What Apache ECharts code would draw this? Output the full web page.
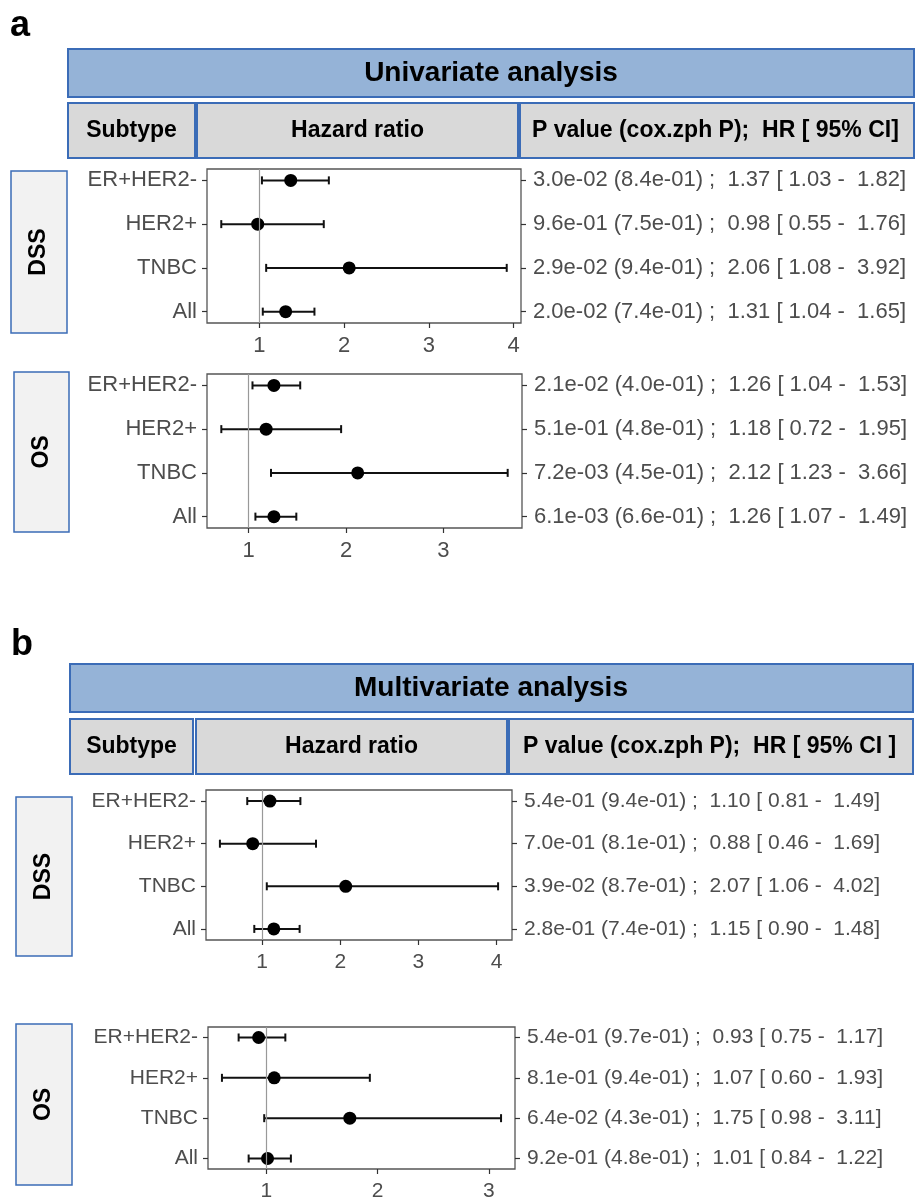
<!DOCTYPE html>
<html><head><meta charset="utf-8">
<script src="https://cdn.jsdelivr.net/npm/echarts@6/dist/echarts.min.js"></script>
<style>html,body{margin:0;padding:0;background:#fff}#chart{width:915px;height:1202px}</style>
</head><body><div id="chart"></div>
<script>
// ---------- data ----------
const rowLabels = ['ER+HER2-', 'HER2+', 'TNBC', 'All'];
const rowPos = [1, 2, 3, 4];
const panelLetters = ['a', 'b'];
const panelTitles = ['Univariate analysis', 'Multivariate analysis'];
const headerLabelsA = ['Subtype', 'Hazard ratio', 'P value (cox.zph P);  HR [ 95% CI]'];
const headerLabelsB = ['Subtype', 'Hazard ratio', 'P value (cox.zph P);  HR [ 95% CI ]'];
const groupLabels = ['DSS', 'OS'];

// Univariate DSS
const uniDssHR    = [1.37, 0.98, 2.06, 1.31];
const uniDssLower = [1.03, 0.55, 1.08, 1.04];
const uniDssUpper = [1.82, 1.76, 3.92, 1.65];
const uniDssP     = ['3.0e-02 (8.4e-01)', '9.6e-01 (7.5e-01)', '2.9e-02 (9.4e-01)', '2.0e-02 (7.4e-01)'];
const uniDssTicks = [1, 2, 3, 4];
// Univariate OS
const uniOsHR    = [1.26, 1.18, 2.12, 1.26];
const uniOsLower = [1.04, 0.72, 1.23, 1.07];
const uniOsUpper = [1.53, 1.95, 3.66, 1.49];
const uniOsP     = ['2.1e-02 (4.0e-01)', '5.1e-01 (4.8e-01)', '7.2e-03 (4.5e-01)', '6.1e-03 (6.6e-01)'];
const uniOsTicks = [1, 2, 3];
// Multivariate DSS
const multiDssHR    = [1.10, 0.88, 2.07, 1.15];
const multiDssLower = [0.81, 0.46, 1.06, 0.90];
const multiDssUpper = [1.49, 1.69, 4.02, 1.48];
const multiDssP     = ['5.4e-01 (9.4e-01)', '7.0e-01 (8.1e-01)', '3.9e-02 (8.7e-01)', '2.8e-01 (7.4e-01)'];
const multiDssTicks = [1, 2, 3, 4];
// Multivariate OS
const multiOsHR    = [0.93, 1.07, 1.75, 1.01];
const multiOsLower = [0.75, 0.60, 0.98, 0.84];
const multiOsUpper = [1.17, 1.93, 3.11, 1.22];
const multiOsP     = ['5.4e-01 (9.7e-01)', '8.1e-01 (9.4e-01)', '6.4e-02 (4.3e-01)', '9.2e-01 (4.8e-01)'];
const multiOsTicks = [1, 2, 3];

// ---------- layout ----------
const FONT = "'Liberation Sans', Arial, sans-serif";
const BLUE = '#3B6CB7';
const panels = [
  { hr: uniDssHR, lo: uniDssLower, hi: uniDssUpper, p: uniDssP, ticks: uniDssTicks, grid: { left: 207, top: 169, width: 314, height: 154 }, fs: 22 },
  { hr: uniOsHR, lo: uniOsLower, hi: uniOsUpper, p: uniOsP, ticks: uniOsTicks, grid: { left: 207, top: 374, width: 315, height: 154 }, fs: 22 },
  { hr: multiDssHR, lo: multiDssLower, hi: multiDssUpper, p: multiDssP, ticks: multiDssTicks, grid: { left: 206, top: 790, width: 306, height: 150 }, fs: 21 },
  { hr: multiOsHR, lo: multiOsLower, hi: multiOsUpper, p: multiOsP, ticks: multiOsTicks, grid: { left: 208, top: 1027, width: 307, height: 147 }, fs: 21 }
];

const grids = [], xAxes = [], yAxes = [], series = [];
panels.forEach((pn, i) => {
  const dmin = Math.min(...pn.lo), dmax = Math.max(...pn.hi);
  const pad = (dmax - dmin) * 0.05;
  const statText = pn.hr.map((h, k) => `${pn.p[k]} ;  ${h.toFixed(2)} [ ${pn.lo[k].toFixed(2)} -  ${pn.hi[k].toFixed(2)}]`);
  grids.push(Object.assign({ show: true, borderColor: '#555', borderWidth: 1.3, backgroundColor: '#fff', containLabel: false }, pn.grid));
  xAxes.push({
    type: 'value', gridIndex: i, min: dmin - pad, max: dmax + pad,
    axisLine: { show: false, onZero: false },
    axisTick: { show: true, length: 5, lineStyle: { color: '#333', width: 1.2 }, customValues: pn.ticks },
    axisLabel: { customValues: pn.ticks, color: '#4D4D4D', fontSize: pn.fs, fontFamily: FONT, margin: 12 },
    splitLine: { show: false }
  });
  const yBase = {
    type: 'value', gridIndex: i, min: 0.74, max: 4.26, inverse: true,
    axisLine: { show: false, onZero: false },
    axisTick: { show: true, length: 5, lineStyle: { color: '#333', width: 1.2 }, customValues: rowPos },
    splitLine: { show: false }
  };
  yAxes.push(Object.assign({}, yBase, {
    position: 'left',
    axisLabel: { customValues: rowPos, color: '#4D4D4D', fontSize: pn.fs, fontFamily: FONT, margin: 10,
      formatter: v => rowLabels[Math.round(v) - 1] }
  }));
  yAxes.push(Object.assign({}, yBase, {
    position: 'right',
    axisLabel: { customValues: rowPos, color: '#4D4D4D', fontSize: pn.fs, fontFamily: FONT, margin: 12,
      formatter: v => statText[Math.round(v) - 1] }
  }));
  series.push({
    type: 'custom', xAxisIndex: i, yAxisIndex: 2 * i, z: 2, silent: true,
    data: pn.lo.map((l, k) => [l, pn.hi[k], rowPos[k]]),
    encode: { x: [0, 1], y: 2 },
    renderItem: (params, api) => {
      const a = api.coord([api.value(0), api.value(2)]);
      const b = api.coord([api.value(1), api.value(2)]);
      const h = 4;
      const st = { stroke: '#111', lineWidth: 2 };
      return { type: 'group', children: [
        { type: 'line', shape: { x1: a[0], y1: a[1], x2: b[0], y2: b[1] }, style: st },
        { type: 'line', shape: { x1: a[0], y1: a[1] - h, x2: a[0], y2: a[1] + h }, style: st },
        { type: 'line', shape: { x1: b[0], y1: b[1] - h, x2: b[0], y2: b[1] + h }, style: st }
      ] };
    },
    markLine: { silent: true, symbol: ['none', 'none'], label: { show: false },
      lineStyle: { color: '#999', width: 1.2, type: 'solid' }, data: [{ xAxis: 1 }], animation: false }
  });
  series.push({
    type: 'scatter', xAxisIndex: i, yAxisIndex: 2 * i, z: 3, silent: true,
    symbol: 'circle', symbolSize: 13, itemStyle: { color: '#000', opacity: 1 },
    data: pn.hr.map((h, k) => [h, rowPos[k]])
  });
});

// ---------- table-like graphics ----------
const graphic = [];
function rect(x, y, w, h, fill, stroke, lw) {
  graphic.push({ type: 'rect', shape: { x, y, width: w, height: h }, style: { fill, stroke, lineWidth: lw }, silent: true });
}
function text(str, x, y, size, opts) {
  graphic.push(Object.assign({ type: 'text', x, y, silent: true,
    style: Object.assign({ text: str, fill: '#000', font: `bold ${size}px ${FONT}`, align: 'center', verticalAlign: 'middle' }, opts || {}) }));
}
function sideBox(label, x, y, w, h) {
  rect(x, y, w, h, '#F2F2F2', BLUE, 1.5);
  graphic.push({ type: 'text', x: x + w / 2, y: y + h / 2, rotation: Math.PI / 2, silent: true,
    style: { text: label, fill: '#000', font: `bold 23px ${FONT}`, align: 'center', verticalAlign: 'middle' } });
}

// panel a
text(panelLetters[0], 20, 26, 36);
rect(68, 49, 846, 48, '#95B3D7', BLUE, 2);
text(panelTitles[0], 491, 73, 28);
rect(68, 103, 127, 55, '#D9D9D9', BLUE, 2);
rect(197, 103, 321, 55, '#D9D9D9', BLUE, 2);
rect(520, 103, 394, 55, '#D9D9D9', BLUE, 2);
text(headerLabelsA[0], 131.5, 131, 23);
text(headerLabelsA[1], 357.5, 131, 23);
text(headerLabelsA[2], 532, 131, 23, { align: 'left' });
sideBox(groupLabels[0], 11, 171, 56, 162);
sideBox(groupLabels[1], 14, 372, 55, 160);

// panel b
text(panelLetters[1], 22, 645, 36);
rect(70, 664, 843, 48, '#95B3D7', BLUE, 2);
text(panelTitles[1], 491, 688, 28);
rect(70, 719, 123, 55, '#D9D9D9', BLUE, 2);
rect(196, 719, 311, 55, '#D9D9D9', BLUE, 2);
rect(509, 719, 404, 55, '#D9D9D9', BLUE, 2);
text(headerLabelsB[0], 131.5, 747, 23);
text(headerLabelsB[1], 351.5, 747, 23);
text(headerLabelsB[2], 523, 747, 23, { align: 'left' });
sideBox(groupLabels[0], 16, 797, 56, 159);
sideBox(groupLabels[1], 16, 1024, 56, 161);

const chart = echarts.init(document.getElementById('chart'), null, { renderer: 'canvas' });
chart.setOption({
  animation: false,
  backgroundColor: '#fff',
  grid: grids, xAxis: xAxes, yAxis: yAxes, series, graphic
});
</script></body></html>
